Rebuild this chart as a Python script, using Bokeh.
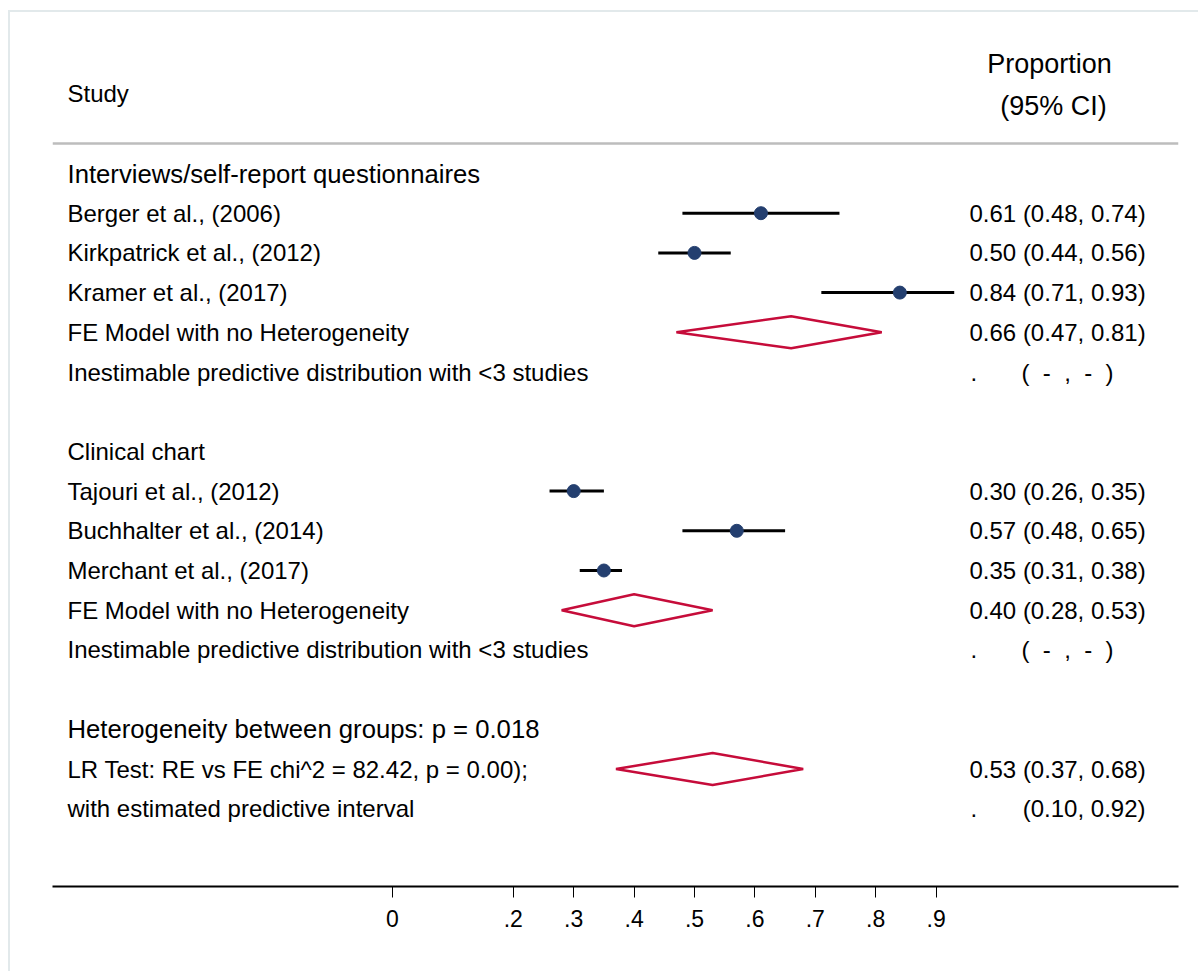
from bokeh.plotting import figure
from bokeh.models import Range1d, FixedTicker, CustomJSTickFormatter, ColumnDataSource, Span
from bokeh.core.properties import value
from bokeh.embed import file_html
from bokeh.resources import INLINE

# ---------------- data ----------------
groups = ["Interviews/self-report questionnaires", "Clinical chart"]
studies = ["Berger et al., (2006)", "Kirkpatrick et al., (2012)", "Kramer et al., (2017)",
           "Tajouri et al., (2012)", "Buchhalter et al., (2014)", "Merchant et al., (2017)"]
study_group = [0, 0, 0, 1, 1, 1]
est = [0.61, 0.50, 0.84, 0.30, 0.57, 0.35]
lo = [0.48, 0.44, 0.71, 0.26, 0.48, 0.31]
hi = [0.74, 0.56, 0.93, 0.35, 0.65, 0.38]
fe_est = [0.66, 0.40]
fe_lo = [0.47, 0.28]
fe_hi = [0.81, 0.53]
overall_est, overall_lo, overall_hi = 0.53, 0.37, 0.68
pi_lo, pi_hi = 0.10, 0.92
het_p = "0.018"
lr_chi2 = "82.42"
lr_p = "0.00"
ticks = [0, 0.2, 0.3, 0.4, 0.5, 0.6, 0.7, 0.8, 0.9]

# ---------------- layout constants (pixels) ----------------
W, H = 1198, 971
FRAME_L, FRAME_R, FRAME_B = 52, 1178, 886
X0PIX, PXU = 392, 604          # pixel of value 0, pixels per unit
ROW0, ROWH = 173, 39.7
FONT = "Liberation Sans"
FS = "24px"
FS_WIDE = "25.7px"
NAVY = "#243f6f"
RED = "#c60c3a"
BORDER = "#e2e9eb"


def xv(px):
    return (px - X0PIX) / PXU


def ry(i):
    return ROW0 + ROWH * i


left_txt, left_y, left_fs = [], [], []
right_txt, right_y, right_x, right_align = [], [], [], []
pts_x, pts_lo, pts_hi, pts_y = [], [], [], []
dia_xs, dia_ys = [], []
DH = 16


def add_left(t, i, fs=FS):
    left_txt.append(t); left_y.append(ry(i)); left_fs.append(fs)


def add_est(i, e, l, h):
    right_txt.append(f"{e:.2f} ({l:.2f}, {h:.2f})")
    right_y.append(ry(i)); right_x.append(xv(969)); right_align.append("left")


def add_dia(i, e, l, h):
    y = ry(i)
    dia_xs.append([l, e, h, e])
    dia_ys.append([y, y - DH, y, y + DH])


row = 0
nb = "\u00a0" * 2
for g, gname in enumerate(groups):
    add_left(gname, row, FS_WIDE if g == 0 else FS); row += 1
    for k in range(len(studies)):
        if study_group[k] != g:
            continue
        add_left(studies[k], row)
        pts_x.append(est[k]); pts_lo.append(lo[k]); pts_hi.append(hi[k]); pts_y.append(ry(row))
        add_est(row, est[k], lo[k], hi[k])
        row += 1
    add_left("FE Model with no Heterogeneity", row)
    add_dia(row, fe_est[g], fe_lo[g], fe_hi[g])
    add_est(row, fe_est[g], fe_lo[g], fe_hi[g])
    row += 1
    add_left("Inestimable predictive distribution with <3 studies", row)
    right_txt.append("."); right_y.append(ry(row)); right_x.append(xv(970)); right_align.append("left")
    right_txt.append(f"({nb}-{nb},{nb}-{nb})"); right_y.append(ry(row)); right_x.append(xv(1021)); right_align.append("left")
    row += 2

add_left(f"Heterogeneity between groups: p = {het_p}", row, FS_WIDE); row += 1
add_left(f"LR Test: RE vs FE chi^2 = {lr_chi2}, p = {lr_p});", row)
add_dia(row, overall_est, overall_lo, overall_hi)
add_est(row, overall_est, overall_lo, overall_hi)
row += 1
add_left("with estimated predictive interval", row)
right_txt.append("."); right_y.append(ry(row)); right_x.append(xv(970)); right_align.append("left")
right_txt.append(f"({pi_lo:.2f}, {pi_hi:.2f})"); right_y.append(ry(row)); right_x.append(xv(1145)); right_align.append("right")

# ---------------- figure ----------------
p = figure(width=W, height=H, output_backend="svg", toolbar_location=None,
           x_range=Range1d(xv(FRAME_L), xv(FRAME_R)), y_range=Range1d(FRAME_B, 0),
           min_border_left=FRAME_L, min_border_right=W - FRAME_R, min_border_top=0,
           min_border_bottom=H - FRAME_B, y_axis_location=None)
p.outline_line_color = None
p.xgrid.visible = False
p.ygrid.visible = False
p.background_fill_color = None
p.border_fill_color = None
# faint outer frame of the graph region (drawn behind the transparent canvas)
p.styles = {
    "background-color": "white",
    "background-image": f"linear-gradient({BORDER}, {BORDER}), linear-gradient({BORDER}, {BORDER})",
    "background-position": "8px 10px, 8px 10px",
    "background-size": "2px 100%, 100% 2px",
    "background-repeat": "no-repeat",
}

ax = p.xaxis[0]
ax.ticker = FixedTicker(ticks=ticks)
ax.formatter = CustomJSTickFormatter(code="return tick == 0 ? '0' : tick.toFixed(1).replace(/^0/, '');")
ax.axis_line_width = 2
ax.axis_line_color = "black"
ax.major_tick_in = 0
ax.major_tick_out = 11
ax.major_tick_line_width = 1
ax.minor_tick_line_color = None
ax.major_label_text_font = FONT
ax.major_label_text_font_size = "23px"
ax.major_label_text_color = "black"
ax.major_label_standoff = 12

# header separator
p.add_layout(Span(location=143, dimension="width", line_color="#bdbdbd", line_width=2.5))

# headers
p.text(x=[xv(67)], y=[93], text=["Study"], text_font=value(FONT), text_font_size=FS,
       text_baseline="alphabetic", text_align="left", text_color="black")
p.text(x=[xv(1049), xv(1053)], y=[63, 105], text=["Proportion", "(95% CI)"], text_font=value(FONT),
       text_font_size="27px", text_baseline="alphabetic", text_align="center", text_color="black")

# left column
ls = ColumnDataSource(dict(x=[xv(67)] * len(left_txt), y=left_y, t=left_txt, fs=left_fs))
p.text(x="x", y="y", text="t", text_font_size="fs", source=ls, text_font=value(FONT),
       text_baseline="alphabetic", text_align="left", text_color="black")

# right column
rs = ColumnDataSource(dict(x=right_x, y=right_y, t=right_txt, a=right_align))
p.text(x="x", y="y", text="t", text_align="a", source=rs, text_font=value(FONT),
       text_font_size=FS, text_baseline="alphabetic", text_color="black")

# CIs and points
p.segment(x0=pts_lo, x1=pts_hi, y0=pts_y, y1=pts_y, line_color="black", line_width=3)
p.scatter(x=pts_x, y=pts_y, size=13, fill_color=NAVY, line_color=NAVY)

# diamonds
p.patches(xs=dia_xs, ys=dia_ys, fill_alpha=0, line_color=RED, line_width=2.5)

open("out.html", "w").write(file_html(p, INLINE))
